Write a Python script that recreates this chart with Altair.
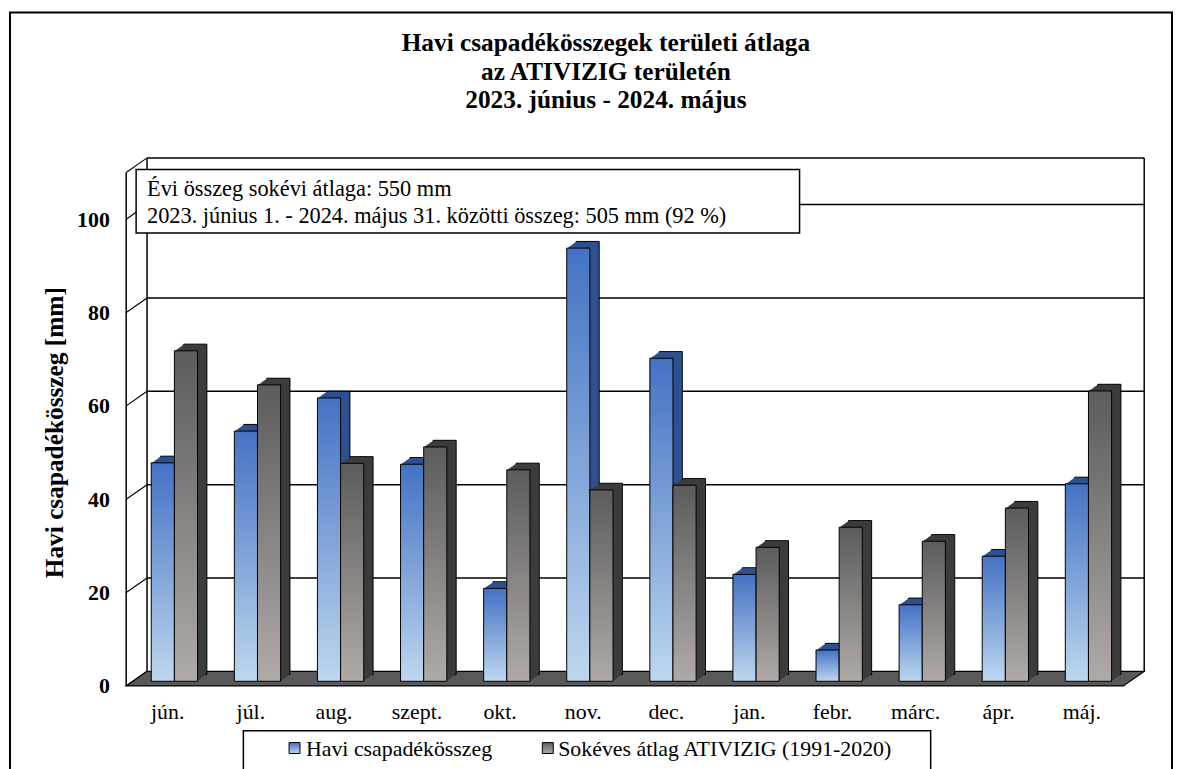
import altair as alt
import pandas as pd

# ---------------- data ----------------
months = ["jún.", "júl.", "aug.", "szept.", "okt.", "nov.", "dec.",
          "jan.", "febr.", "márc.", "ápr.", "máj."]
havi = [46.8, 53.6, 60.7, 46.5, 19.9, 92.8, 69.2, 22.9, 6.7, 16.4, 26.8, 42.3]
sokeves = [70.8, 63.5, 46.7, 50.2, 45.3, 41.0, 42.0, 28.7, 33.0, 30.0, 37.1, 62.2]
series_names = ["Havi csapadékösszeg", "Sokéves átlag ATIVIZIG (1991-2020)"]
y_ticks = [0, 20, 40, 60, 80, 100]
y_top = 110
title_lines = ["Havi csapadékösszegek területi átlaga",
               "az ATIVIZIG területén",
               "2023. június - 2024. május"]
info_lines = ["Évi összeg sokévi átlaga: 550 mm",
              "2023. június 1. - 2024. május 31. közötti összeg: 505 mm (92 %)"]
y_title = "Havi csapadékösszeg [mm]"

# ---------------- style / geometry ----------------
FONT = "Liberation Serif"
W, H = 1004, 517
DX, DY = 21, 14.7          # depth of the walls / floor
BX, BY = 6.7, 4.7          # depth position of bar front faces
SX, SY = 9.4, 6.7          # bar depth
NSTEP = 8

df = pd.DataFrame({
    "month": months + months,
    "value": havi + sokeves,
    "series": [series_names[0]] * len(months) + [series_names[1]] * len(months),
})
grid_df = pd.DataFrame({"v": y_ticks + [y_top]})
one = pd.DataFrame({"k": [0]})

x_scale = alt.Scale(domain=months, paddingInner=0.443, paddingOuter=0.2215)
y_scale = alt.Scale(domain=[0, y_top], nice=False)

X_AXIS = alt.Axis(domain=False, ticks=False, grid=False, labelAngle=0, labelFont=FONT,
                  labelFontSize=22, labelColor="black", labelPadding=16, title=None)
Y_AXIS = alt.Axis(values=y_ticks, domain=False, ticks=False, grid=False, labelFont=FONT,
                  labelFontSize=22, labelFontWeight="bold", labelColor="black",
                  labelPadding=17, title=None)

blue_grad = alt.Gradient(gradient="linear", x1=0, x2=0, y1=0, y2=1,
                         stops=[alt.GradientStop(color="#4472C4", offset=0),
                                alt.GradientStop(color="#BDD7EE", offset=1)])
gray_grad = alt.Gradient(gradient="linear", x1=0, x2=0, y1=0, y2=1,
                         stops=[alt.GradientStop(color="#5C5C5C", offset=0),
                                alt.GradientStop(color="#B0AAA7", offset=1)])

layers = []

# ---------------- walls ----------------
layers.append(
    alt.Chart(grid_df).transform_filter(alt.datum.v > 0)
    .mark_rule(color="black", strokeWidth=1.5, yOffset=-DY)
    .encode(x=alt.value(DX), x2=alt.value(W + DX),
            y=alt.Y("v:Q", scale=y_scale, axis=Y_AXIS))
)
layers.append(
    alt.Chart(grid_df)
    .mark_rule(color="black", strokeWidth=1.2, y2Offset=-DY)
    .encode(x=alt.value(0), x2=alt.value(DX),
            y=alt.Y("v:Q", scale=y_scale, axis=Y_AXIS), y2="v:Q")
)
for xo, yoff in [(0, 0), (DX, -DY), (W + DX, -DY)]:
    layers.append(
        alt.Chart(one)
        .mark_rule(color="black", strokeWidth=1.5, yOffset=yoff, y2Offset=yoff)
        .encode(x=alt.value(xo),
                y=alt.Y(datum=y_top, type="quantitative", scale=y_scale, axis=Y_AXIS),
                y2=alt.Y2(datum=0))
    )

# floor (parallelogram drawn as a custom symbol)
cx, cy = (W + DX) / 2, H - DY / 2
S = 530.0
pts = [(0, H), (W, H), (W + DX, H - DY), (DX, H - DY)]
path = "M" + " L".join(f"{(px - cx) / S:.5f},{(py - cy) / S:.5f}" for px, py in pts) + " Z"
layers.append(
    alt.Chart(one)
    .mark_point(shape=path, size=(2 * S) ** 2, filled=True, fill="#595959",
                stroke="black", strokeWidth=1.2, opacity=1, fillOpacity=1)
    .encode(x=alt.value(cx), y=alt.value(cy))
)


# ---------------- bars (pseudo 3D) ----------------
def bar_layers(name, grad, side, b0, b1):
    base = alt.Chart(df).transform_filter(alt.datum.series == name)
    enc = dict(
        x=alt.X("month:N", sort=months, scale=x_scale, axis=X_AXIS, bandPosition=b0),
        x2=alt.X2("month", bandPosition=b1),
        y=alt.Y("value:Q", scale=y_scale, axis=Y_AXIS),
        y2=alt.Y2(datum=0),
    )
    out = []
    ox, oy = BX + SX, -(BY + SY)
    out.append(base.mark_bar(fill=side, stroke="black", strokeWidth=1,
                             xOffset=ox, x2Offset=ox, yOffset=oy, y2Offset=oy).encode(**enc))
    for k in range(NSTEP - 1, 0, -1):
        ox = BX + SX * k / NSTEP
        oy = -(BY + SY * k / NSTEP)
        out.append(base.mark_bar(fill=side, strokeWidth=0,
                                 xOffset=ox, x2Offset=ox, yOffset=oy, y2Offset=oy).encode(**enc))
    out.append(base.mark_bar(fill=grad, stroke="black", strokeWidth=1,
                             xOffset=BX, x2Offset=BX, yOffset=-BY, y2Offset=-BY).encode(**enc))
    return out


layers += bar_layers(series_names[0], blue_grad, "#2F5190", 0, 0.5)
layers += bar_layers(series_names[1], gray_grad, "#3C3C3C", 0.5, 1)


# ---------------- texts & boxes ----------------
def text_layer(txt, x, y, size, weight="normal", align="center", angle=0):
    return (alt.Chart(pd.DataFrame({"t": [txt]}))
            .mark_text(font=FONT, fontSize=size, fontWeight=weight, align=align,
                       baseline="middle", color="black", angle=angle)
            .encode(text="t:N", x=alt.value(x), y=alt.value(y)))


def box_layer(x, x2, y, y2, fill="white", stroke="black", sw=1.5):
    return (alt.Chart(one)
            .mark_rect(fill=fill, stroke=stroke, strokeWidth=sw)
            .encode(x=alt.value(x), x2=alt.value(x2), y=alt.value(y), y2=alt.value(y2)))


# info box
layers.append(box_layer(10, 678, -3, 61))
layers.append(text_layer(info_lines[0], 21, 17, 22.5, align="left"))
layers.append(text_layer(info_lines[1], 21, 44, 22.5, align="left"))

# title
for i, line in enumerate(title_lines):
    layers.append(text_layer(line, 483, -130 + i * 28.5, 25.5, weight="bold"))

# y axis title
layers.append(text_layer(y_title, -72, 262, 25.5, weight="bold", angle=270))

# legend
layers.append(box_layer(118, 810, 562, 612))
layers.append(box_layer(164, 175, 574, 585, fill=blue_grad, sw=1))
layers.append(text_layer(series_names[0], 181, 581, 22, align="left"))
layers.append(box_layer(419, 430, 574, 585, fill=gray_grad, sw=1))
layers.append(text_layer(series_names[1], 435, 581, 22, align="left"))

# outer frame
layers.append(
    alt.Chart(one)
    .mark_rect(filled=False, stroke="black", strokeWidth=2)
    .encode(x=alt.value(-117), x2=alt.value(1053), y=alt.value(-161), y2=alt.value(640))
)

chart = (
    alt.layer(*layers)
    .properties(width=W, height=H,
                padding={"left": 119, "top": 163, "right": 51, "bottom": 81},
                autosize=alt.AutoSizeParams(type="none"))
    .configure_view(stroke=None)
)

chart.save("out.html", embed_options={"renderer": "svg", "actions": False})
